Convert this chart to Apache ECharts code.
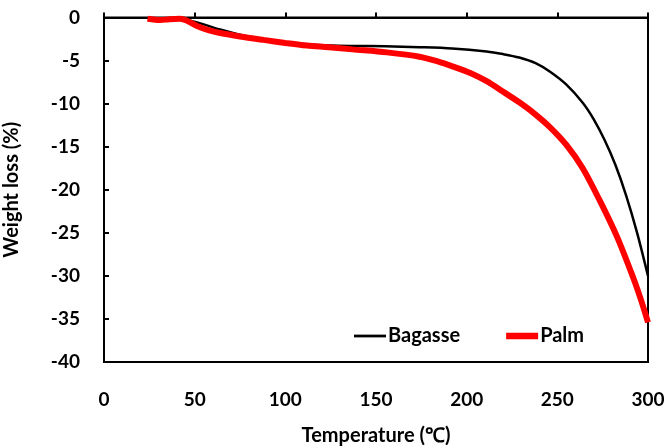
<!DOCTYPE html>
<html><head><meta charset="utf-8">
<script src="https://cdn.jsdelivr.net/npm/echarts@6/dist/echarts.min.js"></script>
<style>html,body{margin:0;padding:0;background:#fff}#c{width:668px;height:447px}</style>
</head><body><div id="c"></div>
<script>
const bagasseT = [25,35,42,47,55,64,75,90,100,115,125,137,155,174,192,211,220,229,238,246,255,264,270,276,282,288,294,300];
const bagasseW = [-0.1,-0.1,-0.15,-0.35,-0.8,-1.4,-2.0,-2.6,-2.9,-3.15,-3.25,-3.3,-3.35,-3.45,-3.6,-3.95,-4.25,-4.65,-5.3,-6.3,-7.8,-9.9,-11.8,-14.2,-17.1,-20.7,-25.0,-30.0];
const palmT = [24,31,36,42,46,51,58,64,75,88,100,112,124,137,156,174,184,192.5,202,211,220,229,237,246,255,264,273.5,283,292,296,300];
const palmW = [-0.15,-0.3,-0.2,-0.15,-0.4,-0.95,-1.5,-1.8,-2.2,-2.6,-2.95,-3.25,-3.45,-3.7,-4.05,-4.55,-5.1,-5.7,-6.45,-7.4,-8.6,-9.85,-11.1,-12.75,-14.8,-17.5,-21.3,-25.5,-30.3,-32.7,-35.4];
const xTicks = {min:0,max:300,interval:50};
const yTicks = {min:-40,max:0,interval:5};

const font = 'Lato, "Open Sans", sans-serif';
const chart = echarts.init(document.getElementById('c'));
chart.setOption({
  animation:false,
  backgroundColor:'#fff',
  grid:{left:104,right:20,top:17.5,bottom:85,show:true,borderColor:'#000',borderWidth:2,containLabel:false,outerBoundsMode:'none'},
  legend:{left:349,top:321,itemWidth:32,itemHeight:14,itemGap:46,
    textStyle:{color:'#000',fontSize:20,fontWeight:'bold',fontFamily:font,padding:[0,0,0,-3]},
    data:[{name:'Bagasse',icon:'path://M0,0L30,0L30,2.6L0,2.6Z'},{name:'Palm',icon:'path://M0,0L30,0L30,6L0,6Z'}]},
  xAxis:{type:'value',min:xTicks.min,max:xTicks.max,interval:xTicks.interval,
    name:'Temperature (℃)',nameLocation:'middle',nameGap:64,
    nameTextStyle:{color:'#000',fontSize:20,fontWeight:'bold',fontFamily:font},
    axisLine:{show:true,lineStyle:{color:'#000',width:2}},
    axisTick:{show:true,inside:true,length:5,lineStyle:{color:'#000',width:2}},
    axisLabel:{color:'#000',fontSize:19,fontWeight:'bold',fontFamily:font,margin:28},
    splitLine:{show:false}},
  yAxis:{type:'value',min:yTicks.min,max:yTicks.max,interval:yTicks.interval,
    name:'Weight loss (%)',nameLocation:'middle',nameGap:82,
    nameTextStyle:{color:'#000',fontSize:20,fontWeight:'bold',fontFamily:font},
    axisLine:{show:true,lineStyle:{color:'#000',width:2}},
    axisTick:{show:true,inside:true,length:5,lineStyle:{color:'#000',width:2}},
    axisLabel:{color:'#000',fontSize:19,fontWeight:'bold',fontFamily:font,margin:24},
    splitLine:{show:false}},
  series:[
    {name:'Palm',type:'line',smooth:0.3,symbol:'none',z:2,
     lineStyle:{color:'#ff0000',width:6},itemStyle:{color:'#ff0000'},
     data:palmT.map((t,i)=>[t,palmW[i]])},
    {name:'Bagasse',type:'line',smooth:0.3,symbol:'none',z:1,
     lineStyle:{color:'#000',width:2.5},itemStyle:{color:'#000'},
     data:bagasseT.map((t,i)=>[t,bagasseW[i]])}
  ]
});
</script></body></html>
